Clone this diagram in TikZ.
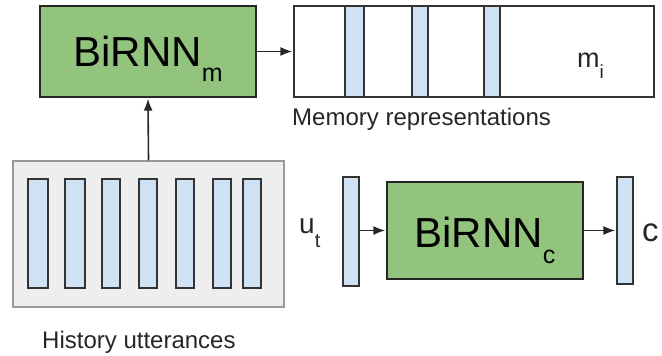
\documentclass[tikz,border=0pt]{standalone}
\usepackage{fontspec}
\setmainfont{Liberation Sans}
\usetikzlibrary{arrows.meta}
\definecolor{rnngreen}{HTML}{93C47D}
\definecolor{vecblue}{HTML}{CFE2F3}
\definecolor{histgray}{HTML}{EEEEEE}
\definecolor{histborder}{HTML}{999999}
\newcommand{\fs}[1]{\fontsize{#1}{#1}\selectfont}
\begin{document}
\begin{tikzpicture}[x=1pt,y=-1pt,
  rnnbox/.style={draw=black!85, fill=rnngreen, line width=1.4pt, inner sep=0pt, font=\fs{42}},
  vec/.style={draw=black!80, fill=vecblue, line width=1.4pt},
  membox/.style={draw=black!80, fill=white, line width=1.4pt},
  histbox/.style={draw=histborder, fill=histgray, line width=1.4pt},
  arr/.style={-{Latex[length=12pt,width=9pt]}, line width=1.6pt, draw=black!85, shorten >=1pt},
  lbl/.style={inner sep=0pt, font=\fs{24}, text=black!85}]
\useasboundingbox (0,0) rectangle (662,356);
% BiRNN_m
\node[rnnbox, minimum width=216pt, minimum height=91pt, text height=45pt, text depth=16pt]
  (birnnm) at (148,51.5) {BiRNN\raisebox{-16pt}{\fs{25}m}};
% Memory
\node[membox, minimum width=360pt, minimum height=91pt, inner sep=0pt] (mem) at (474,51.5) {};
\foreach \a/\b [count=\i] in {345/364, 412/428, 484/500}
  \draw[vec] (\a,6) rectangle (\b,97) coordinate (ms\i);
\node[lbl, anchor=base west, font=\fs{27}] (mi) at (577,67) {m\raisebox{-11pt}{\fs{19}i}};
\node[lbl, anchor=base west] (memlbl) at (292,125) {Memory representations};
% History
\node[histbox, minimum width=271pt, minimum height=146pt, inner sep=0pt] (hist) at (148.5,234) {};
\foreach \a/\b [count=\i] in {28/48, 65/85, 102/120, 139/157, 176/194, 213/231, 243/261}
  \draw[vec] (\a,179) rectangle (\b,288);
\node[lbl, anchor=base west] (histlbl) at (42,348) {History utterances};
% u_t
\node[vec, minimum width=16pt, minimum height=109pt, inner sep=0pt] (ut) at (351,231.5) {};
\node[lbl, anchor=base west, font=\fs{28}] (utlbl) at (299,233) {u\raisebox{-14pt}{\fs{20}t}};
% BiRNN_c
\node[rnnbox, minimum width=196pt, minimum height=97pt, text height=49pt, text depth=16pt]
  (birnnc) at (485,230.5) {BiRNN\raisebox{-16pt}{\fs{25}c}};
% c
\node[vec, minimum width=16pt, minimum height=107pt, inner sep=0pt] (cvec) at (625,230.5) {};
\node[lbl, anchor=base west, font=\fs{33}] (clbl) at (642,241) {c};
% arrows
\draw[arr] (birnnm.east) -- (mem.west);
\draw[arr] (hist.north) -- (birnnm.south);
\draw[arr] (ut.east |- birnnc.west) -- (birnnc.west);
\draw[arr] (birnnc.east) -- (cvec.west |- birnnc.east);
\end{tikzpicture}
\end{document}
